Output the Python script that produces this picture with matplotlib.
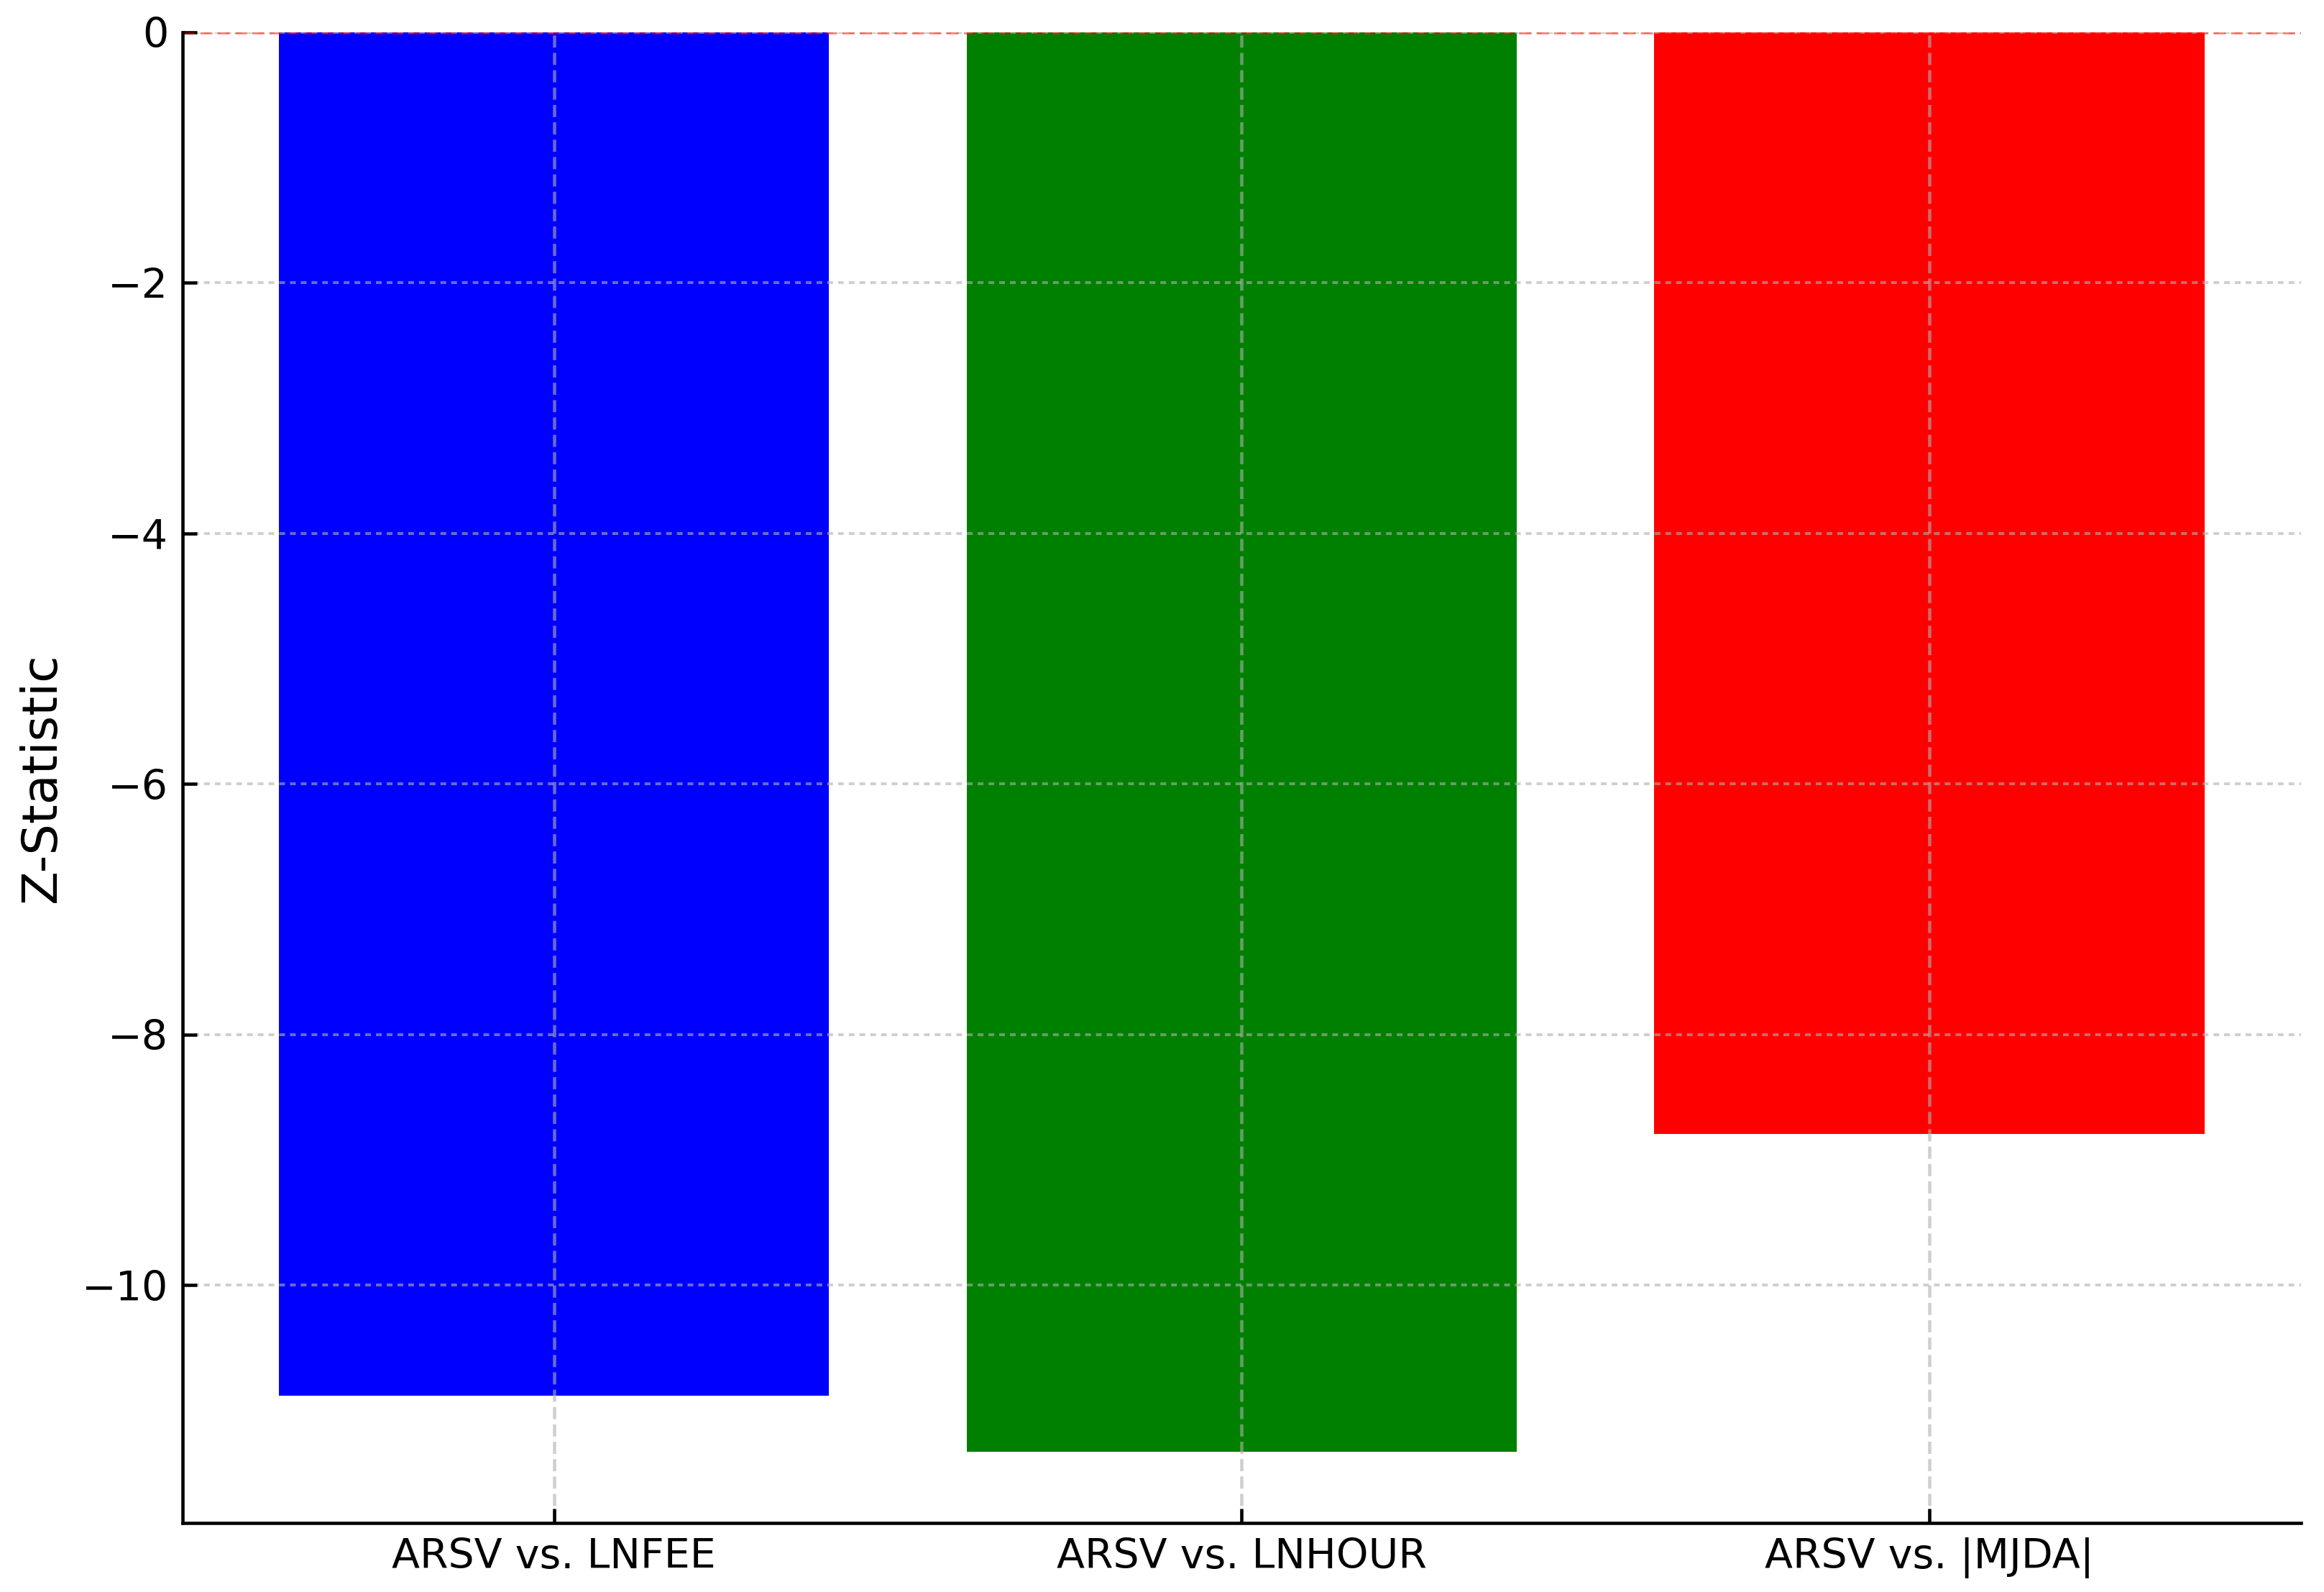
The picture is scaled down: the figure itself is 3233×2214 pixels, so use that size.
import numpy as np
import matplotlib
matplotlib.use('Agg')
import matplotlib.pyplot as plt

comparisons = ['ARSV vs. LNFEE', 'ARSV vs. LNHOUR', 'ARSV vs. |MJDA|']
z_stats = [-10.88, -11.33, -8.79]
bar_colors = ['blue', 'green', 'red']

fig, ax = plt.subplots(figsize=(3233 / 410, 2214 / 410), dpi=410)
ax.bar(comparisons, z_stats, color=bar_colors)
ax.axhline(0, color='red', linestyle='--', linewidth=0.8, alpha=0.5)
ax.set_ylabel('Z-Statistic', fontsize=12)

# vertical grid is dashed, horizontal one has short dashes
ax.xaxis.grid(True, linestyle='--', alpha=0.6)
ax.yaxis.grid(True, linestyle=(0, (2.0, 1.75)), linewidth=0.7, alpha=0.6)

ax.tick_params(direction='in')
ax.spines['top'].set_visible(False)
ax.spines['right'].set_visible(False)

fig.subplots_adjust(left=0.0786, right=0.99, top=0.9797, bottom=0.0434)
fig.savefig('out.png', dpi=410)
